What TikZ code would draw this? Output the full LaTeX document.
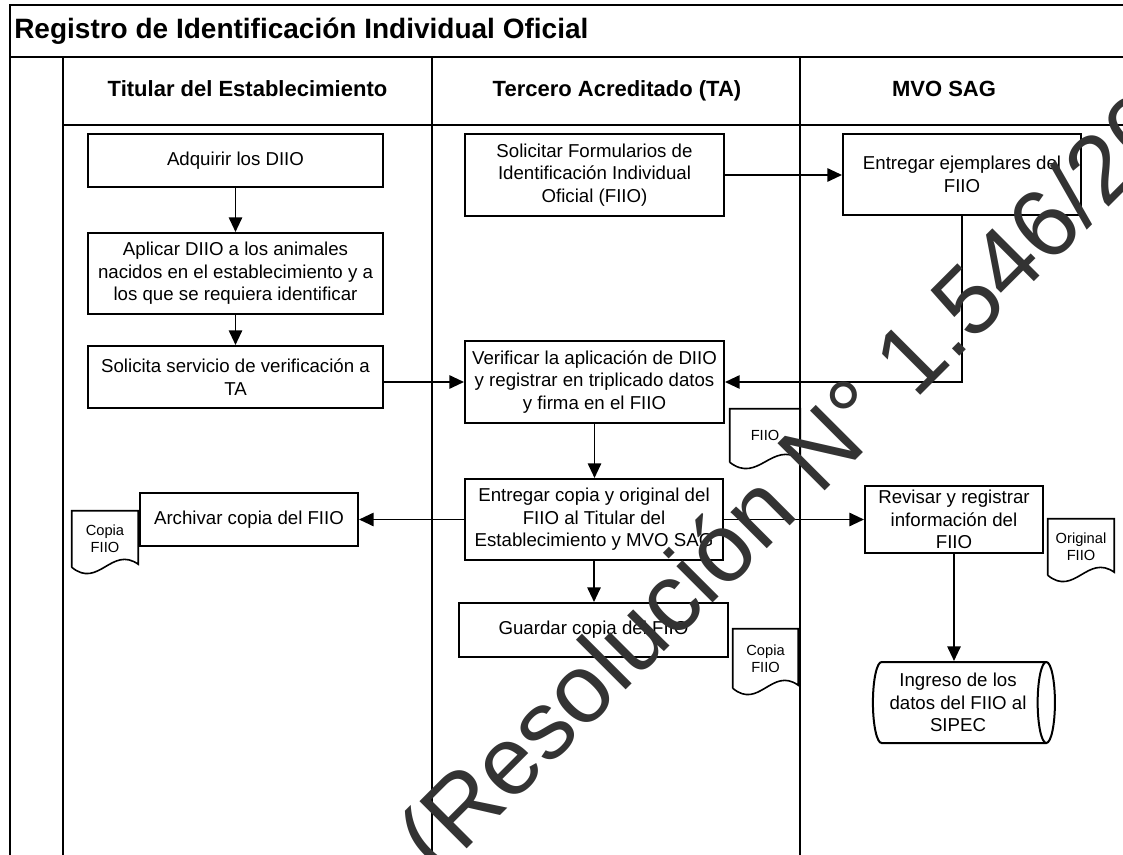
\documentclass[tikz,border=0pt]{standalone}
\usepackage{fontspec}
\setmainfont{Liberation Sans}
\usetikzlibrary{calc,arrows.meta,shapes.geometric}

% wavy document outline around a named node
\newcommand{\docsheet}[1]{%
  \draw[sheet] (#1.south west) -- (#1.north west) -- (#1.north east) -- ($(#1.south east)+(0,-3)$)
    .. controls ($(#1.south east)!0.4!(#1.south west)+(0,-22)$) and ($(#1.south west)!0.4!(#1.south east)+(0,22)$) .. (#1.south west);}

\begin{document}
\begin{tikzpicture}[x=0.75pt,y=-0.75pt,
  lane/.style={line width=1.6pt},
  task/.style={draw,fill=white,line width=1.5pt,align=center,inner sep=1pt,font=\fontsize{14}{17}\selectfont},
  sheet/.style={line width=1.2pt},
  docnote/.style={align=center,inner sep=0pt,font=\fontsize{11}{13}\selectfont},
  lanehead/.style={anchor=base,font=\fontsize{16.5}{20}\selectfont\bfseries},
  flow/.style={line width=1.4pt,-{Triangle[length=11pt,width=10pt]}}]
  \useasboundingbox (0,0) rectangle (1123,855);
  \clip (0,0) rectangle (1123,855);

  % Draw lanes
  \draw[lane] (1200,5) -- (10,5) -- (10,870);
  \draw[lane] (10,57) -- (1200,57);
  \draw[lane] (63,57) -- (63,870);
  \draw[lane] (63,125) -- (1200,125);
  \draw[lane] (432,57) -- (432,870);
  \draw[lane] (800,57) -- (800,870);

  % Title and lane names
  \node[anchor=base west,inner sep=0pt,font=\fontsize{21}{25}\selectfont\bfseries] (title) at (14,39) {Registro de Identificación Individual Oficial};
  \node[lanehead] (titular) at (247.5,97) {Titular del Establecimiento};
  \node[lanehead] (tercero) at (617,97) {Tercero Acreditado (TA)};
  \node[lanehead] (mvo) at (944,97) {MVO SAG};

  % Define steps
  \node[task,minimum width=221.25pt,minimum height=39.75pt] (adquirir) at (235.5,160.5) {Adquirir los DIIO};
  \node[task,minimum width=221.25pt,minimum height=60.75pt] (aplicar) at (235.5,273.5) {Aplicar DIIO a los animales\\nacidos en el establecimiento y a\\los que se requiera identificar};
  \node[task,minimum width=221.25pt,minimum height=46.5pt] (solicita) at (235.5,377) {Solicita servicio de verificación a\\TA};
  \node[task,minimum width=194.25pt,minimum height=61.5pt] (solicitar) at (594.5,175) {Solicitar Formularios de\\Identificación Individual\\Oficial (FIIO)};
  \node[task,minimum width=178.5pt,minimum height=60.75pt] (entregarej) at (962,174.5) {Entregar ejemplares del\\FIIO};
  \node[task,minimum width=194.25pt,minimum height=61.5pt] (verificar) at (594.5,382) {Verificar la aplicación de DIIO\\y registrar en triplicado datos\\y firma en el FIIO};
  \node[task,minimum width=193.5pt,minimum height=60.75pt] (entcopia) at (594,519.5) {Entregar copia y original del\\FIIO al Titular del\\Establecimiento y MVO SAG};
  \node[task,minimum width=163.5pt,minimum height=39.75pt] (archivar) at (249,519.5) {Archivar copia del FIIO};
  \node[task,minimum width=133.5pt,minimum height=50.25pt] (revisar) at (954,519.5) {Revisar y registrar\\información del\\FIIO};
  \node[task,minimum width=201.75pt,minimum height=40.5pt] (guardar) at (593.5,630) {Guardar copia del FIIO};
  \node[task,cylinder,aspect=0.28,minimum width=60.75pt,minimum height=136.5pt] (ingreso) at (958,702.5) {Ingreso de los\\datos del FIIO al\\SIPEC};

  % Documents
  \node[docnote,minimum width=52.5pt,minimum height=39.75pt] (docfiio) at (765,435.5) {FIIO};
  \node[docnote,minimum width=49.5pt,minimum height=42pt] (doccopiat) at (105,539) {Copia\\FIIO};
  \node[docnote,minimum width=49.5pt,minimum height=42pt] (docorig) at (1081,547) {Original\\FIIO};
  \node[docnote,minimum width=48.75pt,minimum height=44.25pt] (doccopiata) at (765.5,658.5) {Copia\\FIIO};
  \docsheet{docfiio}
  \docsheet{doccopiat}
  \docsheet{docorig}
  \docsheet{doccopiata}

  % Draw connectors
  \draw[flow] (adquirir) -- (aplicar);
  \draw[flow] (aplicar) -- (solicita);
  \draw[flow] (solicita.east |- verificar.west) -- (verificar.west);
  \draw[flow] (solicitar.east) -- (solicitar.east -| entregarej.west);
  \draw[flow] (entregarej.south) |- (verificar.east);
  \draw[flow] (verificar.south) -- (verificar.south |- entcopia.north);
  \draw[flow] (entcopia.west) -- (archivar.east);
  \draw[flow] (entcopia.east) -- (revisar.west);
  \draw[flow] (entcopia.south) -- (entcopia.south |- guardar.north);
  \draw[flow] (revisar.south) -- (revisar.south |- ingreso.north);

  % Stamp across the sheet
  \node[rotate=45,anchor=base west,inner sep=0pt,text=black!80,font=\fontsize{72.75}{80}\selectfont] (sello) at (438,878) {(Resolución N° 1.546/20};
\end{tikzpicture}
\end{document}
